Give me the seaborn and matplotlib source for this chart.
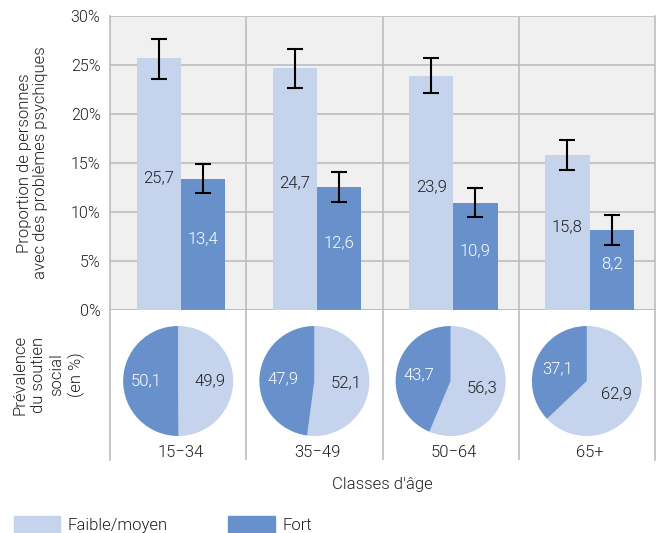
import numpy as np
import pandas as pd
import seaborn as sns
import matplotlib.pyplot as plt
from matplotlib.patches import Patch

sns.set_style("white")
plt.rcParams["font.family"] = ["Roboto", "DejaVu Sans"]
plt.rcParams["font.weight"] = 300
plt.rcParams["axes.labelweight"] = 300

# Data ------------------------------------------------------------------------
ages = ["15\u221234", "35\u221249", "50\u221264", "65+"]
levels = ["Faible/moyen", "Fort"]
faible = [25.7, 24.7, 23.9, 15.8]
fort = [13.4, 12.6, 10.9, 8.2]
faible_lo = [23.6, 22.7, 22.1, 14.3]
faible_hi = [27.7, 26.6, 25.7, 17.3]
fort_lo = [11.9, 11.0, 9.5, 6.6]
fort_hi = [14.9, 14.1, 12.4, 9.7]
pie_faible = [49.9, 52.1, 56.3, 62.9]
pie_fort = [50.1, 47.9, 43.7, 37.1]

colors = ["#c5d3ec", "#6891cb"]
grid_c = "#bdbdbd"
txt_c = "#1e1e1e"

df = pd.DataFrame({
    "age": ages * 2,
    "level": [levels[0]] * 4 + [levels[1]] * 4,
    "value": faible + fort,
    "lo": faible_lo + fort_lo,
    "hi": faible_hi + fort_hi,
})

# Figure ----------------------------------------------------------------------
W, H = 660, 533
fig = plt.figure(figsize=(W / 100, H / 100), dpi=100)
(x0, x1) = (110, 655)
ax = fig.add_axes([x0 / W, 1 - 310 / H, (x1 - x0) / W, (310 - 16) / H])
ax2 = fig.add_axes([x0 / W, 1 - 460 / H, (x1 - x0) / W, (460 - 310) / H])

# Bars ------------------------------------------------------------------------
sns.barplot(
    data=df, x="age", y="value", hue="level", order=ages, hue_order=levels,
    palette=colors, width=0.65, gap=0, errorbar=None, saturation=1,
    linewidth=0, ax=ax, legend=False, zorder=3
)
ax.set_facecolor("#f0f0f0")
ax.set_axisbelow(True)
ax.set_xlim(-0.52, 3.48)
ax.set_ylim(0, 30)
ax.set_yticks(np.arange(0, 31, 5))
ax.set_yticklabels([f"{v}%" for v in range(0, 31, 5)], fontsize=11.5, color=txt_c)
ax.yaxis.grid(True, color=grid_c, lw=1.2)
for xb in [0.48, 1.48, 2.48]:
    ax.axvline(xb, color=grid_c, lw=1.2, zorder=1)
ax.set_xticks([])
ax.set_xlabel("")
ax.set_ylabel("Proportion de personnes\navec des problèmes psychiques",
              fontsize=12, color=txt_c, labelpad=16, linespacing=1.1)
for s in ax.spines.values():
    s.set_color(grid_c)
    s.set_linewidth(1.2)
ax.spines["top"].set_visible(False)
ax.tick_params(axis="y", length=3, color=grid_c, pad=4)

# Error bars and labels -------------------------------------------------------
bars = [p for p in ax.patches if p.get_height() > 0]
for (bar, (_, row)) in zip(bars, df.iterrows()):
    xc = bar.get_x() + bar.get_width() / 2
    ax.errorbar(xc, row["value"],
                yerr=[[row["value"] - row["lo"]], [row["hi"] - row["value"]]],
                fmt="none", ecolor="black", elinewidth=1.5, capsize=5.5,
                capthick=1.5, zorder=4)
    tc = txt_c if row["level"] == levels[0] else "white"
    ax.text(xc, row["value"] / 2 + 0.6, f"{row['value']:.1f}".replace(".", ","),
            ha="center", va="center", fontsize=12, color=tc, zorder=5)

# Pie panel -------------------------------------------------------------------
ax2.set_xlim(-0.52, 3.48)
ax2.set_ylim(0, 1)
ax2.set_xticks([])
ax2.set_yticks([])
for s in ["top", "bottom"]:
    ax2.spines[s].set_visible(False)
for s in ["left", "right"]:
    ax2.spines[s].set_color(grid_c)
    ax2.spines[s].set_linewidth(1.2)
for xb in [0.48, 1.48, 2.48]:
    ax2.axvline(xb, color=grid_c, lw=1.2)
ax2.set_ylabel("Prévalence\ndu soutien\nsocial\n(en %)", fontsize=12,
               color=txt_c, linespacing=1.3)
ax2.yaxis.set_label_coords(-0.045, 0.57)
ax2.set_xlabel("Classes d'âge", fontsize=12, color=txt_c, labelpad=12)

group_px = (x1 - x0) / 4
size_px = 110 / 0.8
for i in range(4):
    cx = x0 + group_px * (i + 0.5)
    cy = 381
    pax = fig.add_axes([(cx - size_px / 2) / W, 1 - (cy + size_px / 2) / H,
                        size_px / W, size_px / H])
    vals = [pie_faible[i], pie_fort[i]]
    wedges, texts, autotexts = pax.pie(
        vals, colors=colors, startangle=90, counterclock=False,
        autopct=lambda p: "", pctdistance=0.58,
        wedgeprops=dict(linewidth=0)
    )
    for (j, t) in enumerate(autotexts):
        t.set_text(f"{vals[j]:.1f}".replace(".", ","))
        t.set_fontsize(12)
        t.set_color(txt_c if j == 0 else "white")
    pax.set_aspect("equal")
    ax2.text(i, 0.047, ages[i], ha="center", va="center", fontsize=12,
             color=txt_c)

# Legend ----------------------------------------------------------------------
handles = [Patch(color=c, label=l) for (c, l) in zip(colors, levels)]
fig.legend(handles=handles, loc="upper left", bbox_to_anchor=(2 / W, 1 - 504 / H),
           ncol=2, frameon=False, fontsize=12, handlelength=2.8,
           handleheight=1.2, columnspacing=3.6, handletextpad=0.45,
           labelcolor=txt_c, borderpad=0.2)

fig.savefig("out.png", dpi=100)
